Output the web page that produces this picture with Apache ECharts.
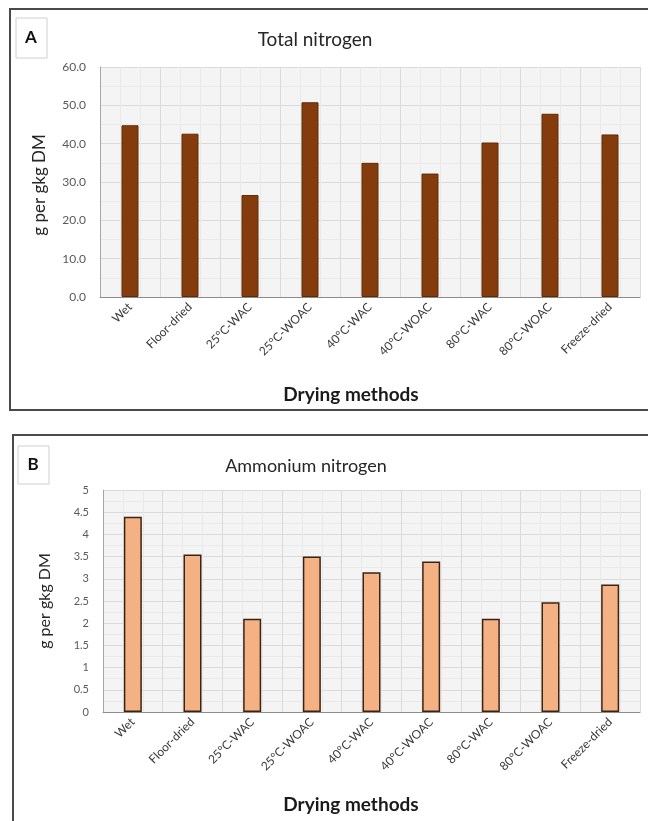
<!DOCTYPE html>
<html>
<head>
<meta charset="utf-8">
<script src="https://cdn.jsdelivr.net/npm/echarts@6/dist/echarts.min.js"></script>
<style>
html,body{margin:0;padding:0;background:#fff;}
#chart{width:648px;height:821px;}
</style>
</head>
<body>
<div id="chart"></div>
<script>
var categories = ['Wet','Floor-dried','25°C-WAC','25°C-WOAC','40°C-WAC','40°C-WOAC','80°C-WAC','80°C-WOAC','Freeze-dried'];
var totalNitrogen = [44.8, 42.6, 26.6, 50.8, 35.0, 32.2, 40.3, 47.8, 42.4];
var ammoniumNitrogen = [4.40, 3.55, 2.10, 3.50, 3.15, 3.39, 2.10, 2.47, 2.87];
var ticksA = [0, 10, 20, 30, 40, 50, 60];
var ticksB = [0, 0.5, 1, 1.5, 2, 2.5, 3, 3.5, 4, 4.5, 5];

var FONT = 'Lato, "Open Sans", sans-serif';
var chart = echarts.init(document.getElementById('chart'), null, {renderer:'canvas'});

function catAxis(gi){
  return {
    type:'category', gridIndex:gi, data:categories,
    axisLine:{show:true, lineStyle:{color:'#8c8c8c', width:1}},
    axisTick:{show:false},
    axisLabel:{rotate:45, fontSize:12, color:'#3a3a3a', fontFamily:FONT, margin:8, interval:0},
    splitLine:{show:true, lineStyle:{color:'#dadada', width:1}}
  };
}
function minorAxis(gi){
  return {
    type:'value', gridIndex:gi, min:0, max:9, interval:1, position:'top',
    axisLine:{show:false}, axisTick:{show:false}, axisLabel:{show:false},
    splitLine:{show:false},
    minorTick:{show:false, splitNumber:3},
    minorSplitLine:{show:true, lineStyle:{color:'#e9e9e9', width:1}}
  };
}

var option = {
  animation:false,
  backgroundColor:'#ffffff',
  grid:[
    {left:100, top:67, width:540, height:230, show:true, backgroundColor:'#f4f4f4', borderWidth:0},
    {left:103, top:490, width:537, height:222, show:true, backgroundColor:'#f4f4f4', borderWidth:0}
  ],
  xAxis:[catAxis(0), catAxis(1), minorAxis(0), minorAxis(1)],
  yAxis:[
    {type:'value', gridIndex:0, min:ticksA[0], max:ticksA[ticksA.length-1], interval:10,
     axisLine:{show:true, lineStyle:{color:'#a6a6a6'}}, axisTick:{show:false},
     axisLabel:{fontSize:12, color:'#595959', fontFamily:FONT, margin:14, formatter:function(v){return v.toFixed(1);}},
     splitLine:{show:true, lineStyle:{color:'#dadada'}},
     minorTick:{show:false, splitNumber:2},
     minorSplitLine:{show:true, lineStyle:{color:'#e9e9e9'}}},
    {type:'value', gridIndex:1, min:ticksB[0], max:ticksB[ticksB.length-1], interval:0.5,
     axisLine:{show:true, lineStyle:{color:'#a6a6a6'}}, axisTick:{show:false},
     axisLabel:{fontSize:11, color:'#595959', fontFamily:FONT, margin:14},
     splitLine:{show:true, lineStyle:{color:'#dadada'}},
     minorTick:{show:false, splitNumber:2},
     minorSplitLine:{show:true, lineStyle:{color:'#e9e9e9'}}}
  ],
  series:[
    {type:'bar', xAxisIndex:0, yAxisIndex:0, data:totalNitrogen, barWidth:17,
     itemStyle:{color:'#843C0C', borderColor:'#5e2a08', borderWidth:1}},
    {type:'bar', xAxisIndex:1, yAxisIndex:1, data:ammoniumNitrogen, barWidth:18,
     itemStyle:{color:'#F4B183', borderColor:'#3b2314', borderWidth:1.5}}
  ],
  graphic:[
    {type:'rect', shape:{x:10, y:9, width:660, height:401}, style:{fill:'none', stroke:'#4a4a4a', lineWidth:2}, z:-1},
    {type:'rect', shape:{x:13, y:435, width:660, height:420}, style:{fill:'none', stroke:'#4a4a4a', lineWidth:2}, z:-1},
    {type:'rect', shape:{x:16, y:18, width:31, height:40}, style:{fill:'#fff', stroke:'#d0d0d0', lineWidth:1}},
    {type:'text', x:31, y:38, style:{text:'A', font:'bold 17px '+FONT, fill:'#111', textAlign:'center', textVerticalAlign:'middle'}},
    {type:'rect', shape:{x:18, y:446, width:31, height:38}, style:{fill:'#fff', stroke:'#d0d0d0', lineWidth:1}},
    {type:'text', x:33, y:465, style:{text:'B', font:'bold 17px '+FONT, fill:'#111', textAlign:'center', textVerticalAlign:'middle'}},
    {type:'text', x:315, y:40, style:{text:'Total nitrogen', font:'19px '+FONT, fill:'#262626', textAlign:'center', textVerticalAlign:'middle'}},
    {type:'text', x:306, y:466, style:{text:'Ammonium nitrogen', font:'18px '+FONT, fill:'#262626', textAlign:'center', textVerticalAlign:'middle'}},
    {type:'text', x:40, y:185, rotation:Math.PI/2, style:{text:'g per gkg DM', font:'17px '+FONT, fill:'#262626', textAlign:'center', textVerticalAlign:'middle'}},
    {type:'text', x:45, y:601, rotation:Math.PI/2, style:{text:'g per gkg DM', font:'16px '+FONT, fill:'#262626', textAlign:'center', textVerticalAlign:'middle'}},
    {type:'text', x:351, y:395, style:{text:'Drying methods', font:'bold 19px '+FONT, fill:'#1a1a1a', textAlign:'center', textVerticalAlign:'middle'}},
    {type:'text', x:351, y:805, style:{text:'Drying methods', font:'bold 19px '+FONT, fill:'#1a1a1a', textAlign:'center', textVerticalAlign:'middle'}}
  ]
};
chart.setOption(option);
</script>
</body>
</html>
